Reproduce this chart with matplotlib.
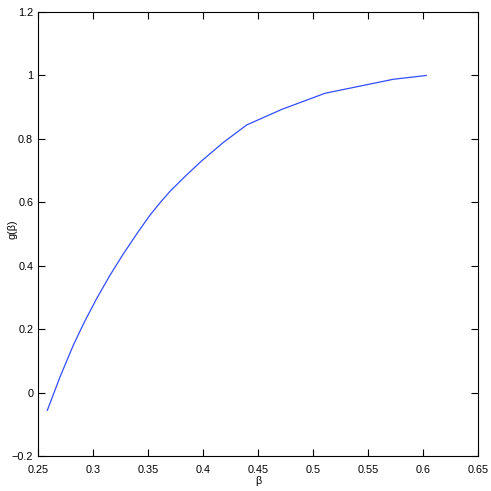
import matplotlib
matplotlib.use("Agg")
import matplotlib.pyplot as plt
from matplotlib.ticker import FuncFormatter

plt.rcParams['font.family'] = ['Liberation Sans', 'DejaVu Sans']

beta = [0.2585, 0.270, 0.2821, 0.292, 0.3027, 0.315, 0.3276, 0.340, 0.3518,
        0.361, 0.370, 0.384, 0.3988, 0.4185, 0.4397, 0.4715, 0.511, 0.573, 0.603]
g = [-0.055, 0.050, 0.150, 0.222, 0.293, 0.368, 0.438, 0.502, 0.560,
     0.599, 0.635, 0.683, 0.731, 0.789, 0.844, 0.893, 0.944, 0.988, 1.0]

xticks = [0.25, 0.3, 0.35, 0.4, 0.45, 0.5, 0.55, 0.6, 0.65]
yticks = [-0.2, 0, 0.2, 0.4, 0.6, 0.8, 1.0, 1.2]

fig = plt.figure(figsize=(4.91, 4.91), dpi=100)
ax = fig.add_axes([38/491, 1 - 456.3/491, 440/491, 444.3/491])
ax.plot(beta, g, color=(0.2, 0.3, 1.0), lw=0.9)
ax.set_xlim(0.25, 0.65)
ax.set_ylim(-0.2, 1.2)
ax.set_xticks(xticks)
ax.set_yticks(yticks)
fmt = FuncFormatter(lambda v, p: ('%g' % round(v, 4)).replace('-', '\u2212'))
ax.xaxis.set_major_formatter(fmt)
ax.yaxis.set_major_formatter(fmt)
ax.tick_params(direction='in', length=5, width=0.8, top=True, right=True,
               labelsize=7.8)
ax.tick_params(axis='x', pad=6.5)
ax.tick_params(axis='y', pad=3.5)
for s in ax.spines.values():
    s.set_linewidth(0.8)
ax.set_xlabel('\u03b2', fontsize=7.8)
ax.set_ylabel('g(\u03b2)', fontsize=7.8)
ax.xaxis.set_label_coords(0.5, -0.056)
ax.yaxis.set_label_coords(-0.059, 0.51)
ax.xaxis.label.set_va('center')
ax.yaxis.label.set_va('center')
fig.savefig('out.png', dpi=100)
